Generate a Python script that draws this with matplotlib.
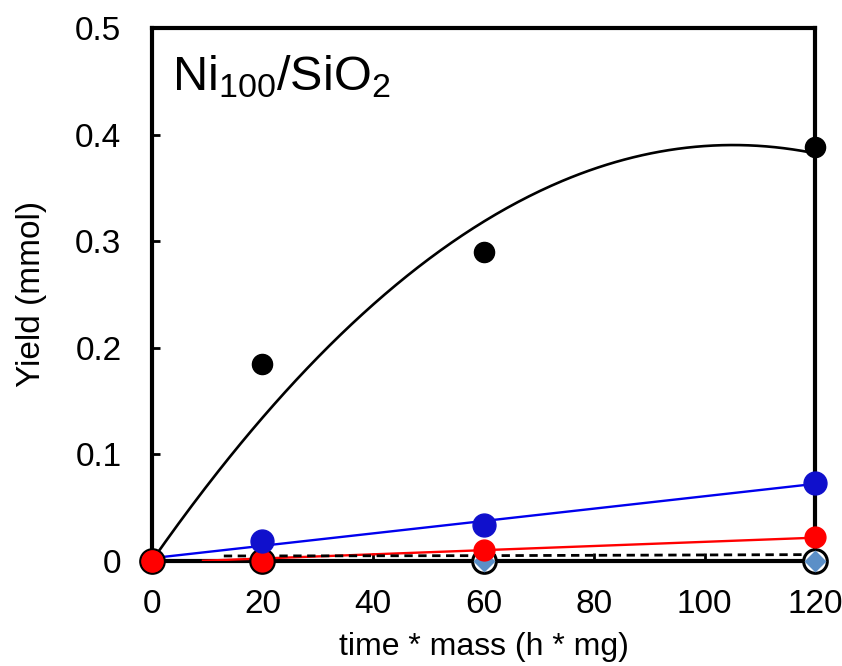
import numpy as np
import matplotlib
matplotlib.use("Agg")
import matplotlib.pyplot as plt

plt.rcParams['font.family'] = ['Liberation Sans', 'DejaVu Sans']
plt.rcParams['mathtext.default'] = 'regular'

# Data
x = [0, 20, 60, 120]
black_y = [0.0, 0.185, 0.29, 0.388]
blue_y = [0.0, 0.019, 0.034, 0.073]
red_y = [0.0, 0.0, 0.010, 0.022]
open_y = [0.0, 0.0, 0.0, 0.0]
diamond_x = [60, 120]
diamond_y = [0.0, 0.0]
dashed_x = [13, 60, 120]
dashed_y = [0.0045, 0.0048, 0.0058]

xticks = [0, 20, 40, 60, 80, 100, 120]
yticks = [0, 0.1, 0.2, 0.3, 0.4, 0.5]
ytick_labels = ['0', '0.1', '0.2', '0.3', '0.4', '0.5']

fig = plt.figure(figsize=(8.42, 6.66), dpi=100)
ax = fig.add_axes([0.1805, 0.158, 0.7875, 0.8])

xa = np.array(x, dtype=float)
xs = np.linspace(0, 120, 300)

# black: quadratic fit through origin
A = np.vstack([xa, xa**2]).T
coef, *_ = np.linalg.lstsq(A, np.array(black_y), rcond=None)
ax.plot(xs, coef[0]*xs + coef[1]*xs**2, color='black', lw=1.9, zorder=3)

# blue and red: linear fits
pb = np.polyfit(xa, blue_y, 1)
ax.plot(xs, np.polyval(pb, xs), color='#0000ee', lw=1.7, zorder=3)
pr = np.polyfit(xa, red_y, 1)
yr = np.polyval(pr, xs)
m = yr >= 0
ax.plot(xs[m], yr[m], color='#ff0000', lw=1.7, zorder=3)

# dashed line
ax.plot(dashed_x, dashed_y, color='black', lw=2.0, ls=(0, (3, 2)), zorder=3)

# markers
ax.plot(x, open_y, 'o', ms=17, mfc='white', mec='black', mew=2.2, ls='none', zorder=4, clip_on=False)
ax.plot(diamond_x, diamond_y, 'D', ms=11, mfc='#5b8fc7', mec='none', ls='none', zorder=5, clip_on=False)
ax.plot(x, red_y, 'o', ms=15, color='#ff0000', ls='none', zorder=6, clip_on=False)
ax.plot(x[1:], blue_y[1:], 'o', ms=16.5, color='#1010cc', ls='none', zorder=6, clip_on=False)
ax.plot(x[1:], black_y[1:], 'o', ms=14.5, color='black', ls='none', zorder=7, clip_on=False)
ax.plot([0], [0], 'o', ms=15, color='#ff0000', ls='none', zorder=8, clip_on=False)

ax.set_xlim(0, 120)
ax.set_ylim(0, 0.5)
ax.set_xticks(xticks)
ax.set_yticks(yticks)
ax.set_yticklabels(ytick_labels)
ax.tick_params(direction='in', length=6, width=2, labelsize=24, color='black')
ax.tick_params(axis='x', pad=20)
ax.tick_params(axis='y', pad=22)
for s in ax.spines.values():
    s.set_linewidth(3)

ax.set_xlabel('time * mass (h * mg)', fontsize=23, labelpad=9)
ax.set_ylabel('Yield (mmol)', fontsize=24, labelpad=20)

ax.text(0.030, 0.8837, 'Ni$_{100}$/SiO$_2$', transform=ax.transAxes, fontsize=35,
        ha='left', va='baseline')

fig.savefig('out.png', dpi=100)
